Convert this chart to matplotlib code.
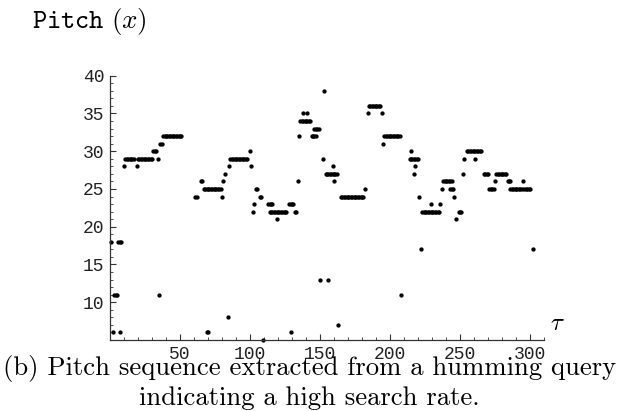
# Pitch sequence of a humming query (dot plot, Mathematica look)

import matplotlib
matplotlib.use("Agg")
import matplotlib.pyplot as plt

# (tau, pitch) samples, one line per group of dots
tau = [
    1, 2, 3, 4, 5, 6, 7, 8, 7,
    10, 11, 12, 13, 14, 15, 16, 17, 19,
    20, 21, 22, 23, 24, 25, 26, 27, 28, 29, 30,
    31, 32, 33, 34, 35, 36, 37,
    38, 39, 40, 41, 42, 43, 44, 45, 46, 47, 48, 49, 50, 51,
    61, 62, 65, 66, 69, 70, 80, 81, 82, 84, 85,
    67, 68, 69, 70, 71, 72, 73, 74, 75, 76, 77, 78, 79,
    86, 87, 88, 89, 90, 91, 92, 93, 94, 95, 96, 97, 98,
    100, 101, 102, 103, 104, 105, 107, 108, 109, 119, 129,
    113, 114, 115, 116, 128, 129, 130, 131,
    114, 115, 116, 117, 118, 119, 120, 121, 122, 123, 124, 125, 126,
    132, 133, 134, 135, 138, 141, 150, 152, 153, 156, 159, 160, 163,
    136, 137, 138, 139, 140, 141, 142, 143,
    144, 145, 146, 147, 146, 147, 148, 149,
    154, 155, 156, 157, 158, 159, 160, 161, 162,
    165, 166, 167, 168, 169, 170, 171, 172, 173, 174, 175, 176, 177, 178, 179, 180, 181,
    182, 184, 194, 195, 208, 215, 217, 218, 221, 222,
    185, 186, 187, 188, 189, 190, 191, 192, 193,
    196, 197, 198, 199, 200, 201, 202, 203, 204, 205, 206, 207,
    214, 215, 216, 217, 218, 219, 220,
    223, 224, 225, 226, 227, 228, 229, 230, 231, 232, 233, 234, 235,
    229, 236, 237, 243, 244, 245, 246, 247, 252, 253, 261, 275, 295, 302,
    238, 239, 240, 241, 242, 243, 244,
    249, 250, 251,
    255, 256, 257, 258, 259, 260, 261, 262, 263, 264, 265,
    267, 268, 269, 270, 276, 277, 278, 279, 280, 281, 282, 283,
    271, 272, 273, 274, 286, 287, 288, 289, 290, 291, 292, 293, 294, 296, 297, 298, 299, 300,
    284, 285, 286,
]
pitch = [
    18, 6, 11, 11, 11, 18, 18, 18, 6,
    28, 29, 29, 29, 29, 29, 29, 29, 28,
    29, 29, 29, 29, 29, 29, 29, 29, 29, 29, 29,
    30, 30, 30, 29, 11, 31, 31,
    32, 32, 32, 32, 32, 32, 32, 32, 32, 32, 32, 32, 32, 32,
    24, 24, 26, 26, 6, 6, 24, 26, 27, 8, 28,
    25, 25, 25, 25, 25, 25, 25, 25, 25, 25, 25, 25, 25,
    29, 29, 29, 29, 29, 29, 29, 29, 29, 29, 29, 29, 29,
    30, 28, 22, 23, 25, 25, 24, 24, 5, 21, 6,
    23, 23, 23, 23, 23, 23, 23, 23,
    22, 22, 22, 22, 22, 22, 22, 22, 22, 22, 22, 22, 22,
    22, 22, 26, 32, 35, 35, 13, 29, 38, 13, 28, 26, 7,
    34, 34, 34, 34, 34, 34, 34, 34,
    32, 32, 32, 32, 33, 33, 33, 33,
    27, 27, 27, 27, 27, 27, 27, 27, 27,
    24, 24, 24, 24, 24, 24, 24, 24, 24, 24, 24, 24, 24, 24, 24, 24, 24,
    25, 35, 35, 31, 11, 30, 27, 28, 24, 17,
    36, 36, 36, 36, 36, 36, 36, 36, 36,
    32, 32, 32, 32, 32, 32, 32, 32, 32, 32, 32, 32,
    29, 29, 29, 29, 29, 29, 29,
    22, 22, 22, 22, 22, 22, 22, 22, 22, 22, 22, 22, 22,
    23, 23, 25, 25, 25, 25, 24, 21, 27, 29, 29, 26, 26, 17,
    26, 26, 26, 26, 26, 26, 26,
    22, 22, 22,
    30, 30, 30, 30, 30, 30, 30, 30, 30, 30, 30,
    27, 27, 27, 27, 27, 27, 27, 27, 27, 27, 27, 27,
    25, 25, 25, 25, 25, 25, 25, 25, 25, 25, 25, 25, 25, 25, 25, 25, 25, 25,
    26, 26, 26,
]

x_major = [50, 100, 150, 200, 250, 300]
x_minor = [10, 20, 30, 40, 60, 70, 80, 90, 110, 120, 130, 140, 160, 170, 180, 190,
           210, 220, 230, 240, 260, 270, 280, 290, 310]
y_major = [10, 15, 20, 25, 30, 35, 40]
y_minor = [6, 7, 8, 9, 11, 12, 13, 14, 16, 17, 18, 19, 21, 22, 23, 24, 26, 27, 28, 29,
           31, 32, 33, 34, 36, 37, 38, 39]

caption_1 = "(b) Pitch sequence extracted from a humming query"
caption_2 = "indicating a high search rate."

plt.rcParams['mathtext.fontset'] = 'cm'
plt.rcParams['font.family'] = ['Liberation Mono', 'DejaVu Sans']

W, H = 619, 411
fig = plt.figure(figsize=(W / 100, H / 100), dpi=100)
ax = fig.add_axes([110 / W, 1 - 340 / H, (544 - 110) / W, (340 - 75.7) / H])

ax.plot(tau, pitch, 'o', color='black', markersize=3.1, markeredgewidth=0,
        linestyle='none', clip_on=False)

ax.set_xlim(0, 310)
ax.set_ylim(5, 40)
ax.spines['top'].set_visible(False)
ax.spines['right'].set_visible(False)
for s in ['left', 'bottom']:
    ax.spines[s].set_color('#333333')
    ax.spines[s].set_linewidth(0.9)

ax.set_xticks(x_major)
ax.set_xticks(x_minor, minor=True)
ax.set_yticks(y_major)
ax.set_yticks(y_minor, minor=True)
ax.tick_params(which='major', direction='in', length=4, width=0.8, color='#333333',
               labelsize=13, labelcolor='#222222', pad=4)
ax.tick_params(which='minor', direction='in', length=2, width=0.6, color='#333333')

fig.text(32 / W, 1 - 28 / H, r'$\mathtt{Pitch}\ (x)$', fontsize=19.5, va='baseline')
fig.text(557 / W, 1 - 323 / H, r'$\tau$', fontsize=18, ha='center', va='center')
fig.text(0.5, 1 - 375 / H, caption_1, family='cmr10', fontsize=19.2, ha='center', va='baseline')
fig.text(0.5, 1 - 405 / H, caption_2, family='cmr10', fontsize=19.2, ha='center', va='baseline')

fig.savefig("out.png", dpi=100)
